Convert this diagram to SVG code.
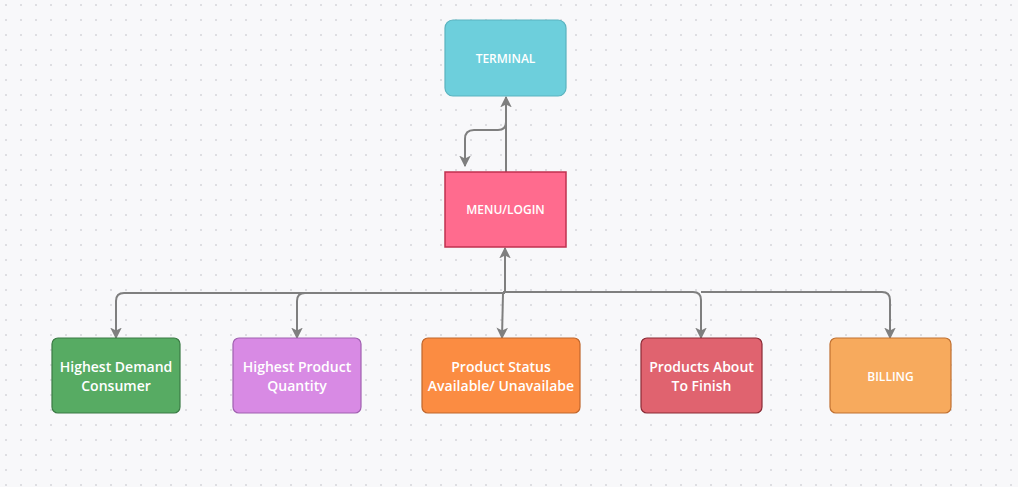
<svg xmlns="http://www.w3.org/2000/svg" width="1018" height="487" viewBox="0 0 1018 487">
<defs>
<pattern id="dots" x="0" y="0" width="15" height="15" patternUnits="userSpaceOnUse">
<rect x="5" y="4" width="2" height="2" fill="#dedee2"/>
</pattern>
<marker id="arr" viewBox="0 0 10 10" refX="9" refY="5" markerWidth="5.8" markerHeight="5.8" orient="auto" markerUnits="strokeWidth">
<path d="M0,0 L10,5 L0,10 L2.5,5 Z" fill="#7f7f7f"/>
</marker>
<style>
.lbl{font-family:"Open Sans","Noto Sans","Liberation Sans",sans-serif;font-weight:600;fill:#ffffff;text-anchor:middle}
.sm{font-size:12px}
.md{font-size:14px}
.ln{fill:none;stroke:#7f7f7f;stroke-width:2}
</style>
</defs>
<rect width="1018" height="487" fill="#f8f8fa"/>
<rect width="1018" height="487" fill="url(#dots)"/>
<g id="connectors">
<path class="ln" d="M506 172 V97" marker-end="url(#arr)"/>
<path class="ln" d="M506 122 Q506 130 498 130 H474 Q465 130 465 139 V166" marker-end="url(#arr)"/>
<path class="ln" d="M505 293 V248" marker-end="url(#arr)"/>
<path class="ln" d="M505 293 H124 Q116 293 116 301 V338" marker-end="url(#arr)"/>
<path class="ln" d="M305 293 Q297 293 297 301 V338" marker-end="url(#arr)"/>
<path class="ln" d="M503 293 L502 338" marker-end="url(#arr)"/>
<path class="ln" d="M503 292 H693 Q701 292 701 300 V338" marker-end="url(#arr)"/>
<path class="ln" d="M701 292 H882 Q890 292 890 300 V338" marker-end="url(#arr)"/>
</g>
<g id="terminal">
<rect x="445" y="20" width="121" height="76" rx="8" fill="#6dcfdc" stroke="#5ab3bf" stroke-width="1.2"/>
<text class="lbl sm" x="505.5" y="62.5">TERMINAL</text>
</g>
<g id="menu-login">
<rect x="445" y="172" width="121" height="75" fill="#ff6b8e" stroke="#c0304f" stroke-width="1.5"/>
<text class="lbl sm" x="505.5" y="214">MENU/LOGIN</text>
</g>
<g id="highest-demand">
<rect x="52" y="338" width="128" height="75" rx="6" fill="#57ab63" stroke="#3a7a44" stroke-width="1.2"/>
<text class="lbl md" x="116" y="372">Highest Demand</text>
<text class="lbl md" x="116" y="391">Consumer</text>
</g>
<g id="highest-quantity">
<rect x="233" y="338" width="128" height="75" rx="6" fill="#d88ae4" stroke="#a060b0" stroke-width="1.2"/>
<text class="lbl md" x="297" y="372">Highest Product</text>
<text class="lbl md" x="297" y="391">Quantity</text>
</g>
<g id="product-status">
<rect x="422" y="338" width="158" height="75" rx="6" fill="#fb8c42" stroke="#c0662b" stroke-width="1.2"/>
<text class="lbl md" x="501" y="372">Product Status</text>
<text class="lbl md" x="501" y="391">Available/ Unavailabe</text>
</g>
<g id="about-to-finish">
<rect x="641" y="338" width="121" height="75" rx="6" fill="#e0636f" stroke="#8a2a35" stroke-width="1.2"/>
<text class="lbl md" x="701.5" y="372">Products About</text>
<text class="lbl md" x="701.5" y="391">To Finish</text>
</g>
<g id="billing">
<rect x="830" y="338" width="121" height="75" rx="6" fill="#f7aa5d" stroke="#c07030" stroke-width="1.2"/>
<text class="lbl sm" x="890.5" y="380.5">BILLING</text>
</g>
</svg>
